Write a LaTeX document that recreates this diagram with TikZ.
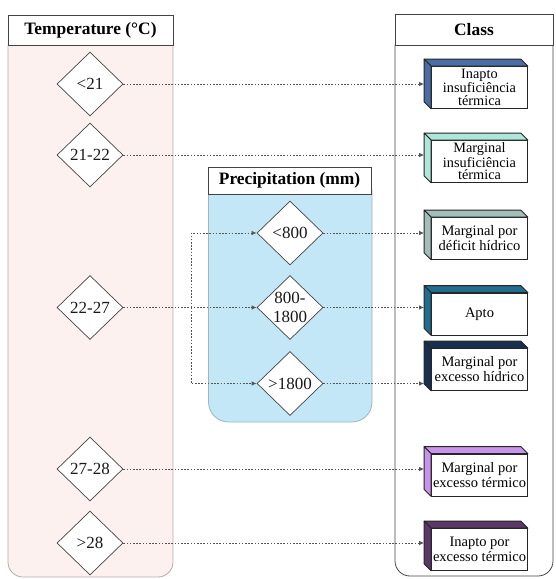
\documentclass[tikz,border=0pt]{standalone}
\usepackage{fontspec}
\setmainfont{Liberation Serif}
\usetikzlibrary{shapes.geometric,arrows.meta,calc}
\definecolor{pinkbg}{HTML}{FDF1EF}
\definecolor{pinkline}{HTML}{B9AAAA}
\definecolor{bluebg}{HTML}{C3E7F6}
\definecolor{blueline}{HTML}{9DB5C2}
\definecolor{edgec}{HTML}{444444}
\definecolor{connc}{HTML}{555555}
\definecolor{cA}{HTML}{4A6EA3}
\definecolor{cB}{HTML}{AEE6DA}
\definecolor{cC}{HTML}{A3BDB9}
\definecolor{cD}{HTML}{226D8E}
\definecolor{cE}{HTML}{172F50}
\definecolor{cF}{HTML}{C992EB}
\definecolor{cG}{HTML}{5C3869}
\begin{document}
\begin{tikzpicture}[x=1pt,y=-1pt,
  dia/.style={shape=diamond, draw=edgec, fill=white, line width=0.7pt,
    minimum width=66pt, minimum height=64pt, inner sep=0pt},
  dtext/.style={font=\fontsize{17}{19}\selectfont, align=center, inner sep=0pt, text=black!90},
  hdr/.style={draw=edgec, fill=white, line width=0.8pt,
    font=\fontsize{17.4}{19}\selectfont\bfseries, inner sep=0pt},
  cbox/.style={draw=black!85, fill=white, line width=0.8pt, minimum width=96pt,
    minimum height=42pt, inner sep=0pt, align=center},
  two/.style={font=\fontsize{14.5}{15}\selectfont},
  three/.style={font=\fontsize{14.3}{12.8}\selectfont},
  conn/.style={draw=connc, line width=0.8pt, dash pattern=on 1.6pt off 1.6pt},
  arr/.style={-{Latex[length=5pt,width=4.5pt]}},
  face/.style={draw=black!85, line width=0.8pt, line join=round}
]
\useasboundingbox (0,0) rectangle (555,579);

% Temperature panel
\filldraw[fill=pinkbg, draw=pinkline, line width=0.8pt]
  (8,45) [rounded corners=15] -- (8,577) -- (173,577) [sharp corners] -- (173,45) -- cycle;
\node[hdr, minimum width=165pt, minimum height=30pt] (th) at (90.5,30.5) {Temperature (°C)};

% Class panel
\draw[draw=edgec, line width=0.8pt]
  (395,45) [rounded corners=15] -- (395,576) -- (553,576) [sharp corners] -- (553,45);
\node[hdr, minimum width=158pt, minimum height=31pt] (ch) at (474,29.5) {Class};

% Precipitation panel
\filldraw[fill=bluebg, draw=blueline, line width=0.8pt]
  (208.5,190) [rounded corners=20] -- (208.5,422) -- (372,422) [sharp corners] -- (372,190) -- cycle;
\node[hdr, minimum width=163pt, minimum height=27pt] (ph) at (289.5,180.5) {Precipitation (mm)};

% Temperature diamonds
\node[dia, label={[dtext]center:<21}] (t1) at (90,84) {};
\node[dia, label={[dtext]center:21-22}] (t2) at (90,155) {};
\node[dia, label={[dtext]center:22-27}] (t3) at (90,307.5) {};
\node[dia, label={[dtext]center:27-28}] (t4) at (90,469) {};
\node[dia, label={[dtext]center:>28}] (t5) at (90,543) {};

% Precipitation diamonds
\node[dia, label={[dtext]center:<800}] (p1) at (290,233) {};
\node[dia, label={[dtext]center:800-\\1800}] (p2) at (290,307.5) {};
\node[dia, label={[dtext]center:>1800}] (p3) at (290,383.5) {};

% Class boxes
\node[cbox, three] (b1) at (479.5,87.5) {Inapto\\insuficiência\\térmica};
\node[cbox, three] (b2) at (479.5,161.5) {Marginal\\insuficiência\\térmica};
\node[cbox, two] (b3) at (479.5,238.5) {Marginal por\\déficit hídrico};
\node[cbox, two] (b4) at (479.5,314) {Apto};
\node[cbox, two] (b5) at (479.5,369.5) {Marginal por\\excesso hídrico};
\node[cbox, two] (b6) at (479.5,475) {Marginal por\\excesso térmico};
\node[cbox, two] (b7) at (479.5,549.5) {Inapto por\\excesso térmico};

\foreach \b/\c in {b1/cA,b2/cB,b3/cC,b4/cD,b5/cE,b6/cF,b7/cG}{
  \filldraw[face, fill=\c] (\b.north west) -- (\b.north east) -- ++(-7,-7)
    -- ($(\b.north west)+(-7,-7)$) -- cycle;
  \filldraw[face, fill=\c] (\b.north west) -- (\b.south west) -- ++(-7,-7)
    -- ($(\b.north west)+(-7,-7)$) -- cycle;
}

% Connectors
\draw[conn, arr] (t1.east) -- ($(t1.east -| b1.west)+(-7,0)$);
\draw[conn, arr] (t2.east) -- ($(t2.east -| b2.west)+(-7,0)$);
\draw[conn, arr] (t4.east) -- ($(t4.east -| b6.west)+(-7,0)$);
\draw[conn, arr] (t5.east) -- ($(t5.east -| b7.west)+(-7,0)$);
\draw[conn, arr] (t3.east) -- (p2.west);
\coordinate (elb) at (191,307.5);
\draw[conn, arr] (elb) |- (p1.west);
\draw[conn, arr] (elb) |- (p3.west);
\draw[conn, arr] (p1.east) -- ($(p1.east -| b3.west)+(-7,0)$);
\draw[conn, arr] (p2.east) -- ($(p2.east -| b4.west)+(-7,0)$);
\draw[conn, arr] (p3.east) -- ($(p3.east -| b5.west)+(-7,0)$);
\end{tikzpicture}
\end{document}
